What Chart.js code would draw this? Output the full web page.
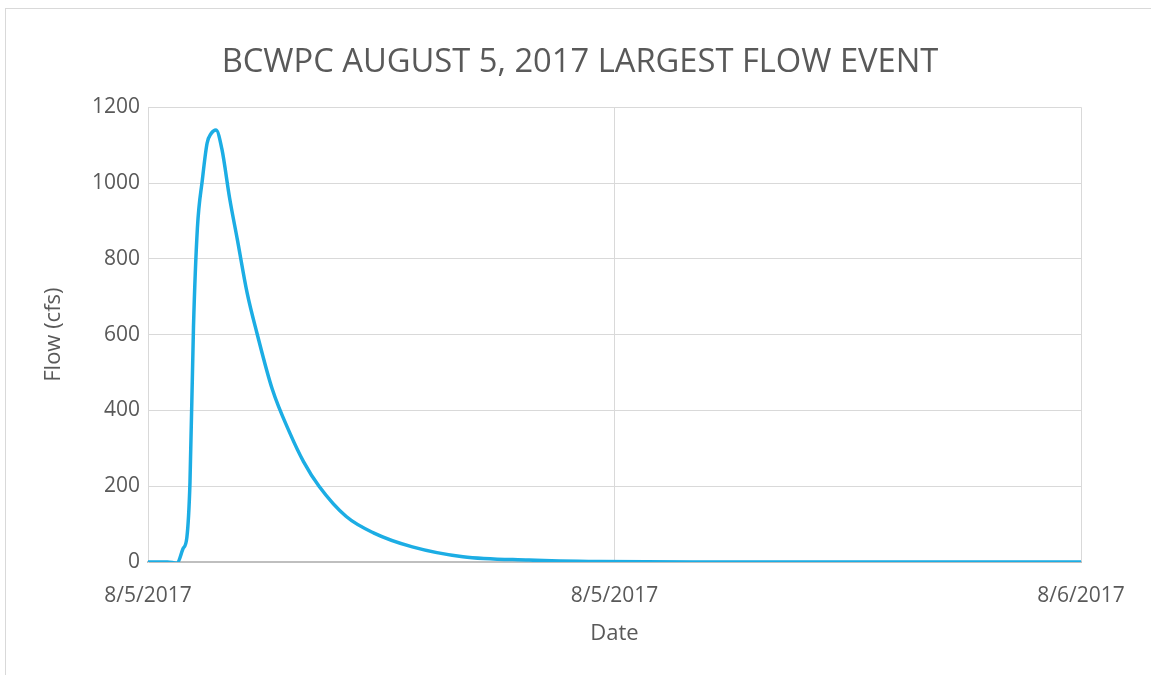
<!DOCTYPE html>
<html>
<head>
<meta charset="utf-8">
<script src="https://cdn.jsdelivr.net/npm/chart.js@4/dist/chart.umd.min.js"></script>
<style>
    html, body { margin: 0; padding: 0; background: #fff; }
    #wrap { position: relative; width: 1151px; height: 675px; }
    #frame { position: absolute; left: 5px; top: 8px; width: 1160px; height: 680px; border: 1px solid #d9d9d9; pointer-events: none; }
</style>
</head>
<body>
<div id="wrap">
    <canvas id="flowChart" width="1151" height="675"></canvas>
    <div id="frame"></div>
</div>
<script>
// hours after midnight, 8/5/2017
const hours = [0, 0.5, 0.75, 0.9, 1.0, 1.08, 1.17, 1.27, 1.4, 1.52, 1.62, 1.75, 1.9, 2.1, 2.3, 2.55, 2.8, 3.2, 3.65, 4.0, 4.4, 5.1, 5.8, 6.8, 8.1, 9.8, 11.6, 14, 24];
const flow = [0, 0, -3, 35, 65, 210, 620, 880, 1010, 1105, 1130, 1140, 1090, 960, 850, 710, 605, 455, 340, 265, 200, 120, 77, 40, 14, 5, 1, 0, 0];
const xTickLabels = ['8/5/2017', '8/5/2017', '8/6/2017'];
const xTickValues = [0, 12, 24];
const yTicks = [0, 200, 400, 600, 800, 1000, 1200];

const font = "'Open Sans', sans-serif";
const textColor = '#595959';

// center the title over the whole frame, not just the plot side
const centerTitle = {
    id: 'centerTitle',
    afterLayout(chart) {
        const t = chart.titleBlock;
        if (t) {
            t.left = 0;
            t.right = 1160;
            t.width = 1160;
        }
    }
};

const ctx = document.getElementById('flowChart').getContext('2d');

new Chart(ctx, {
    type: 'line',
    data: {
        datasets: [
            {
                label: 'Flow',
                data: hours.map((h, i) => ({ x: h, y: flow[i] })),
                borderColor: '#1cade4',
                borderWidth: 3.5,
                pointRadius: 0,
                fill: false,
                cubicInterpolationMode: 'monotone'
            }
        ]
    },
    plugins: [centerTitle],
    options: {
        responsive: false,
        animation: false,
        layout: { padding: { left: 0, right: 70, top: 0, bottom: 28 } },
        plugins: {
            legend: { display: false },
            tooltip: { enabled: false },
            title: {
                display: true,
                text: 'BCWPC AUGUST 5, 2017 LARGEST FLOW EVENT',
                color: textColor,
                font: { family: font, size: 32.7, weight: 'normal' },
                padding: { top: 43, bottom: 25 }
            }
        },
        scales: {
            x: {
                type: 'linear',
                min: 0,
                max: 24,
                afterBuildTicks: axis => { axis.ticks = xTickValues.map(v => ({ value: v })); },
                afterFit: scale => { scale.height = 85; },
                ticks: {
                    color: textColor,
                    font: { family: font, size: 21 },
                    padding: 21,
                    maxRotation: 0,
                    callback: (v, i) => xTickLabels[i]
                },
                grid: { color: ctx => ctx.tick.value === 0 ? 'rgba(0,0,0,0)' : '#d9d9d9', drawTicks: false },
                border: { color: '#bfbfbf', width: 2 },
                title: {
                    display: true,
                    text: 'Date',
                    color: textColor,
                    font: { family: font, size: 22 },
                    padding: { top: 0, bottom: 0 }
                }
            },
            y: {
                min: 0,
                max: 1200,
                afterBuildTicks: axis => { axis.ticks = yTicks.map(v => ({ value: v })); },
                afterFit: scale => { scale.width = 148; },
                ticks: {
                    color: textColor,
                    font: { family: font, size: 21 },
                    padding: 8,
                    callback: v => String(v)
                },
                grid: { color: '#d9d9d9', drawTicks: false },
                border: { color: '#d9d9d9' },
                title: {
                    display: true,
                    text: 'Flow (cfs)',
                    color: textColor,
                    font: { family: font, size: 22 },
                    padding: { top: 41, bottom: 0 }
                }
            }
        }
    }
});
</script>
</body>
</html>
